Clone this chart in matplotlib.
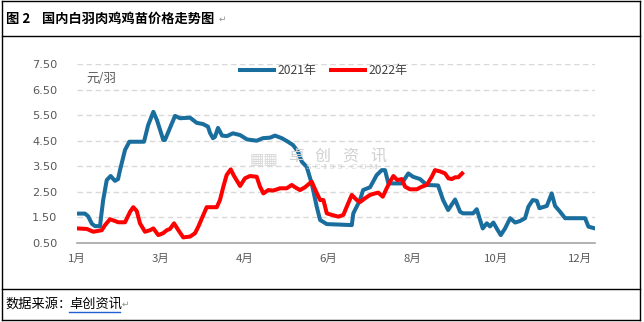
import matplotlib
matplotlib.use("Agg")
import matplotlib.pyplot as plt
from matplotlib.lines import Line2D

plt.rcParams['font.family'] = ['Noto Sans CJK SC', 'DejaVu Sans']

# ---- data (x in day index along the category axis) ----
days_2021 = [0, 5.7, 7.9, 10.7, 12.9, 16.5, 17.2, 18.8, 21.3, 24.1, 27.2, 29.4, 30.8, 34.4, 37.5,
             48, 50.9, 54.7, 57.3, 61.8, 63, 66.6, 70.2, 73.8, 81, 85.7, 90.3, 93.8, 95.3, 97.4,
             98.8, 101, 103.9, 107.4, 111.7, 116.8, 121.8, 128.7, 133.2, 138.3, 141.8, 146.6,
             151.1, 154.7, 158.3, 161, 164.5, 168.1, 171.7, 174.1, 178.9, 196.8, 197.9, 202.7,
             204.9, 209.9, 214.7, 218.3, 220.6, 223, 232.6, 237.3, 240.7, 245.7, 250.5, 258.6,
             262.2, 265.8, 270.8, 274.4, 276.5, 283.7, 286.3, 288.7, 290.6, 293.5, 295.8, 298.2,
             300.6, 303.5, 306.6, 310.2, 313.8, 317.3, 320.9, 323.3, 326.4, 329.3, 331.2, 336.5,
             340, 342.4, 346, 349.6, 363.9, 366.3, 371]
price_2021 = [1.65, 1.65, 1.55, 1.25, 1.16, 1.16, 1.5, 2.2, 2.96, 3.12, 2.93, 3.0, 3.35, 4.14, 4.46,
              4.46, 5.1, 5.63, 5.3, 4.53, 4.53, 5.0, 5.47, 5.38, 5.4, 5.2, 5.15, 5.05, 4.8, 4.6,
              4.65, 5.0, 4.7, 4.68, 4.79, 4.72, 4.55, 4.5, 4.6, 4.62, 4.7, 4.6,
              4.46, 4.33, 4.07, 3.68, 3.48, 2.83, 1.92, 1.4, 1.24, 1.2, 1.66, 2.18,
              2.57, 2.68, 3.16, 3.35, 3.35, 2.83, 2.83, 3.22, 3.09, 3.0, 2.77, 2.75,
              2.18, 1.79, 2.2, 1.72, 1.66, 1.66, 1.82, 1.4, 1.07, 1.27, 1.15, 1.3,
              1.07, 0.81, 1.07, 1.47, 1.3, 1.36, 1.47, 1.92, 2.18, 2.15, 1.86, 1.95,
              2.44, 1.95, 1.72, 1.47, 1.47, 1.14, 1.07]

days_2022 = [0, 7, 11.7, 17.7, 20.1, 23.6, 27.2, 29.6, 34.4, 38, 40.3, 42.8, 45.1, 48.7, 52.3,
             54.7, 58.2, 61.6, 64.3, 66.6, 69.5, 72.6, 76.1, 80.9, 84.5, 86.9, 90.5, 92.9, 100.1,
             102.4, 104.8, 107.2, 110.1, 112.5, 116.8, 120.3, 123.9, 128.7, 131.1, 133.5, 137,
             140.6, 145.4, 150.2, 153.8, 156.2, 159.7, 163.3, 168.1, 170.5, 174.1, 176.5, 178.9,
             182.4, 187.2, 190.8, 193.2, 196.8, 200.4, 202.7, 206.3, 209.9, 213.5, 215.8, 219,
             221.8, 224.2, 226.6, 229.4, 232.6, 235, 238.5, 243.3, 246.9, 250.5, 254.1, 256.4,
             260, 263.6, 266, 268.4, 270.8, 273.1, 275.8]
price_2022 = [1.07, 1.05, 0.94, 1.0, 1.2, 1.43, 1.36, 1.31, 1.31, 1.72, 1.9, 1.75, 1.27, 0.94, 1.0,
              1.07, 0.81, 0.88, 1.0, 1.05, 1.27, 1.0, 0.72, 0.75, 0.88, 1.14, 1.6, 1.9, 1.9,
              2.18, 2.7, 3.16, 3.38, 3.12, 2.73, 3.03, 3.12, 3.09, 2.7, 2.44, 2.57,
              2.55, 2.64, 2.64, 2.77, 2.68, 2.57, 2.68, 2.9, 2.6, 2.18, 2.18, 1.66,
              1.6, 1.53, 1.6, 1.92, 2.38, 2.18, 2.1, 2.25, 2.38, 2.44, 2.47, 2.31,
              2.64, 2.9, 3.12, 2.96, 3.0, 2.7, 2.6, 2.6, 2.7, 2.77, 3.09, 3.35,
              3.3, 3.22, 3.03, 3.0, 3.07, 3.07, 3.22]

tick_days = [0, 60, 120, 180, 240, 300, 360]
tick_labels = ['1月', '3月', '4月', '6月', '8月', '10月', '12月']
y_ticks = [0.5, 1.5, 2.5, 3.5, 4.5, 5.5, 6.5, 7.5]
series_names = ['2021年', '2022年']

BLUE = '#1a6e9e'
RED = '#ff0000'
TXT = '#595959'
WM = '#d0d0d0'

W, H = 644, 322
fig = plt.figure(figsize=(W / 100, H / 100), dpi=100)

def fx(px):
    return px / W

def fy(py):
    return 1 - py / H

ax = fig.add_axes([fx(77), fy(243), fx(595) - fx(77), fy(64) - fy(243)])
ax.plot(days_2021, price_2021, color=BLUE, lw=2.9, solid_joinstyle='round', label=series_names[0], zorder=3)
ax.plot(days_2022, price_2022, color=RED, lw=2.9, solid_joinstyle='round', label=series_names[1], zorder=4)

ax.set_xlim(0, 371)
ax.set_ylim(0.5, 7.5)
ax.set_yticks(y_ticks)
ax.set_yticklabels([f'{v:.2f}' for v in y_ticks], family='DejaVu Sans')
ax.set_xticks(tick_days)
ax.set_xticklabels(tick_labels)
ax.tick_params(axis='both', length=0, colors=TXT, labelsize=8.2)
ax.tick_params(axis='y', pad=14)
ax.tick_params(axis='x', pad=8)
for s in ['top', 'right', 'left']:
    ax.spines[s].set_visible(False)
ax.spines['bottom'].set_color('#a6a6a6')
ax.spines['bottom'].set_linewidth(1.2)
ax.grid(axis='y', color='#d9d9d9', linestyle=(0, (4, 2.5)), linewidth=1.0)
ax.set_axisbelow(True)

fig.text(fx(86), fy(78), '元/羽', fontsize=9, color=TXT, va='center', ha='left')

# watermark
for ch, px in zip('卓创资讯', [288, 315, 342, 370]):
    fig.text(fx(px), fy(156), ch, fontsize=11.5, color=WM, va='center', ha='left', zorder=1)
fig.text(fx(342), fy(167), 'S C I 9 9 . C O M', fontsize=6, color=WM, va='center', ha='center',
         family='DejaVu Serif', zorder=1)
fig.text(fx(250), fy(160), '▦▦', fontsize=11, color='#d8d8d8', va='center', ha='left',
         family='DejaVu Sans', zorder=1)

leg = fig.legend(loc='center', bbox_to_anchor=(fx(324), fy(71)), ncol=2, frameon=False,
                 fontsize=8.7, handlelength=2.8, handletextpad=0.3, columnspacing=1.2)
for t in leg.get_texts():
    t.set_color('#404040')

# frame
lc = 'black'
for (x0, y0, x1, y1) in [(2, 1, 640, 1), (2, 320, 640, 320), (2, 1, 2, 320), (640, 1, 640, 320),
                         (2, 36, 640, 36), (2, 289, 640, 289)]:
    fig.add_artist(Line2D([fx(x0), fx(x1)], [fy(y0), fy(y1)], color=lc, lw=1.0))

fig.text(fx(6), fy(18.5), '图 2', fontsize=9.6, fontweight='bold', color='black', va='center', ha='left')
fig.text(fx(42), fy(18.5), '国内白羽肉鸡鸡苗价格走势图', fontsize=9.5, fontweight='bold', color='black',
         va='center', ha='left')
fig.text(fx(219), fy(19), '↵', fontsize=6.5, color='#909090', va='center', ha='left', family='DejaVu Sans')

fig.text(fx(5), fy(304), '数据来源：', fontsize=9.5, color='black', va='center', ha='left')
fig.text(fx(69), fy(304), '卓创资讯', fontsize=9.5, color='black', va='center', ha='left')
fig.add_artist(Line2D([fx(69), fx(120)], [fy(312), fy(312)], color='#2060d0', lw=1.0))
fig.text(fx(122), fy(304), '↵', fontsize=6.5, color='#909090', va='center', ha='left', family='DejaVu Sans')

fig.savefig('out.png', dpi=100)
